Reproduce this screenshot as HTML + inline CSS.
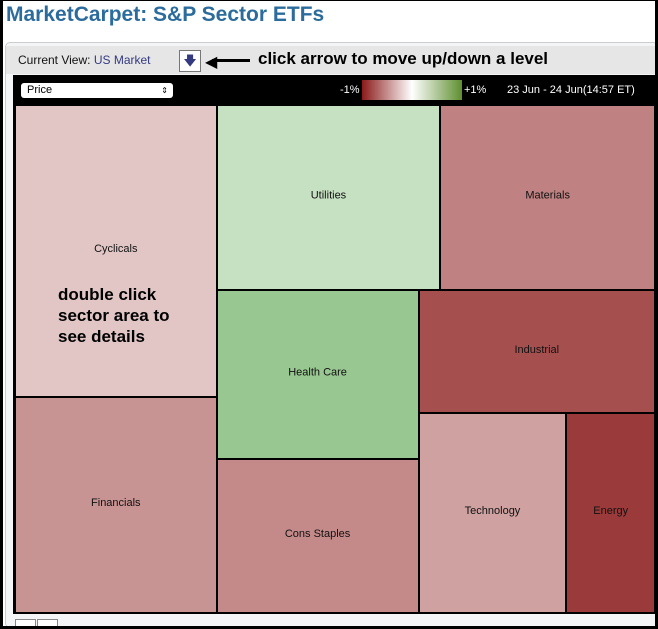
<!DOCTYPE html>
<html><head><meta charset="utf-8"><style>
html,body{margin:0;width:658px;height:629px;overflow:hidden;}
body{background:#fff;font-family:"Liberation Sans",sans-serif;position:relative;}
#frame{position:absolute;left:0;top:0;width:652px;height:625px;border:3px solid #000;border-top:1px solid #000;background:transparent;z-index:10;}
</style></head><body>
<div style="position:absolute;left:6px;top:3px;font-size:21px;font-weight:bold;color:#2b6c9c;">MarketCarpet: S&amp;P Sector ETFs</div>
<div style="position:absolute;left:5px;top:42px;width:651px;height:584px;background:#f4f5f7;border:1px solid #ccc;border-radius:5px;"></div>
<div style="position:absolute;left:6px;top:46px;width:650px;height:28px;background:#e6e6e6;"></div>
<div style="position:absolute;left:18px;top:53px;font-size:12px;color:#111;">Current View: <span style="color:#343a80">US Market</span></div>
<div style="position:absolute;left:179px;top:50px;width:20px;height:20px;border:1px solid #777;background:#fff;color:#343a80;font-size:13px;text-align:center;line-height:20px;">&#129095;</div>
<div style="position:absolute;left:205px;top:52px;font-size:16px;color:#000;">&#9664;</div>
<div style="position:absolute;left:212px;top:59px;width:38px;height:3px;background:#000;"></div>
<div style="position:absolute;left:258px;top:49px;font-size:17px;font-weight:bold;color:#000;">click arrow to move up/down a level</div>
<div style="position:absolute;left:13px;top:75px;width:643px;height:539px;background:#000;"></div>
<div style="position:absolute;left:21px;top:83px;height:15px;background:#fff;border-radius:3px;font-size:11px;line-height:15px;padding-left:6px;box-sizing:border-box;width:152px;">Price<span style="position:absolute;right:5px;font-size:8px;">&#8661;</span></div>
<div style="position:absolute;left:340px;top:84px;font-size:11px;color:#fff;">-1%</div>
<div style="position:absolute;left:362px;top:80px;width:100px;height:20px;background:linear-gradient(to right,#8b1a1a,#fff 50%,#5f8f30);"></div>
<div style="position:absolute;left:464px;top:84px;font-size:11px;color:#fff;">+1%</div>
<div style="position:absolute;left:507px;top:84px;font-size:11px;color:#fff;">23 Jun - 24 Jun(14:57 ET)</div>
<svg id="tm" style="position:absolute;left:0;top:0" width="658" height="629"></svg>
<div style="position:absolute;left:58px;top:284px;font-size:17px;font-weight:bold;color:#000;line-height:21px;">double click<br>sector area to<br>see details</div>
<div style="position:absolute;left:15px;top:619px;width:19px;height:12px;border:1px solid #888;background:#fff;"></div>
<div style="position:absolute;left:37px;top:619px;width:19px;height:12px;border:1px solid #888;background:#fff;"></div>
<div id="frame"></div>
<script>
const sectors=["Cyclicals","Financials","Utilities","Materials","Health Care","Cons Staples","Industrial","Technology","Energy"];
const weights=[58200,43200,41032,39376,33768,30753,28792,29253,17512];
const changes=[-0.25,-0.47,0.37,-0.55,0.66,-0.51,-0.77,-0.41,-0.86];
// layout tree: H = side by side, V = stacked; leaves are sector indices
const tree=["H",["V",0,1],["V",["H",2,3],["H",["V",4,5],["V",6,["H",7,8]]]]];
const svg=document.getElementById('tm');
const NS="http://www.w3.org/2000/svg";
function wsum(n){return typeof n==="number"?weights[n]:n.slice(1).reduce((a,c)=>a+wsum(c),0);}
function color(v){
  const c=v<0?[139,26,26]:[100,170,90];const t=Math.min(1,Math.abs(v));
  return "rgb("+c.map(x=>Math.round(255+(x-255)*t)).join(",")+")";
}
function layout(n,x,y,w,h){
  if(typeof n==="number"){draw(n,x,y,w,h);return;}
  const tot=wsum(n);let off=0;
  n.slice(1).forEach(c=>{const f=wsum(c)/tot;
    if(n[0]==="H"){layout(c,x+off,y,w*f,h);off+=w*f;}
    else{layout(c,x,y+off,w,h*f);off+=h*f;}});
}
function draw(i,x,y,w,h){
  const r=document.createElementNS(NS,"rect");
  r.setAttribute("x",Math.round(x)+1);r.setAttribute("y",Math.round(y)+1);
  r.setAttribute("width",Math.round(x+w)-Math.round(x)-2);r.setAttribute("height",Math.round(y+h)-Math.round(y)-2);
  r.setAttribute("fill",color(changes[i]));
  
  
  svg.appendChild(r);
  const t=document.createElementNS(NS,"text");
  t.setAttribute("x",x+w/2);t.setAttribute("y",y+h/2+1);
  t.setAttribute("text-anchor","middle");t.setAttribute("font-size","11");
  t.setAttribute("font-family","Liberation Sans, sans-serif");t.setAttribute("fill","#111");
  t.textContent=sectors[i];
  
  
  svg.appendChild(t);
}
layout(tree,15,105,640,508);
</script>
</body></html>
